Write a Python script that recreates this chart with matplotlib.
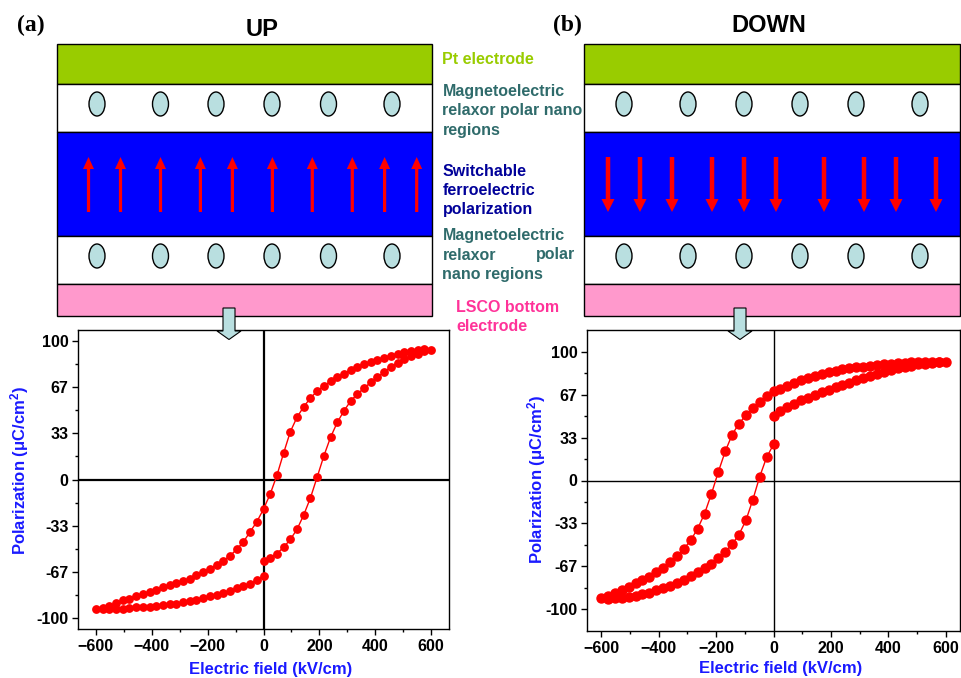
import matplotlib
matplotlib.use("Agg")
import matplotlib.pyplot as plt
from matplotlib.patches import Rectangle, Ellipse, FancyArrow, Polygon

plt.rcParams['font.family'] = ['Liberation Sans', 'DejaVu Sans']
plt.rcParams['font.weight'] = 'bold'
plt.rcParams['mathtext.fontset'] = 'custom'
plt.rcParams['mathtext.rm'] = 'Liberation Sans:bold'
plt.rcParams['mathtext.it'] = 'Liberation Sans:bold'
plt.rcParams['mathtext.bf'] = 'Liberation Sans:bold'

# ---- P-E loop data (kV/cm, uC/cm2) ----
# UP: rise 0 -> 600, fall 576 -> -600, return -576 -> 0
up_field_rise = [0, 24, 48, 72, 96, 120, 144, 168, 192, 216, 240, 264, 288,
                 312, 336, 360, 384, 408, 432, 456, 480, 504, 528, 552, 576, 600]
up_pol_rise = [-58.7, -56.5, -53.5, -49.0, -43.3, -36.0, -25.6, -13.3, 1.7, 17.0,
               30.5, 41.2, 49.6, 56.7, 61.8, 66.0, 70.2, 73.8, 77.8, 81.3, 84.3,
               86.8, 89.0, 91.0, 92.6, 93.7]
up_field_fall = [576, 552, 528, 504, 480, 456, 432, 408, 384, 360, 336, 312, 288,
                 264, 240, 216, 192, 168, 144, 120, 96, 72, 48, 24, 0, -24, -48,
                 -72, -96, -120, -144, -168, -192, -216, -240, -264, -288, -312,
                 -336, -360, -384, -408, -432, -456, -480, -504, -528, -552, -576, -600]
up_pol_fall = [94.0, 93.5, 92.8, 92.0, 90.7, 89.5, 88.0, 86.6, 84.8, 83.2, 81.4,
               79.1, 76.3, 73.8, 70.9, 67.7, 63.9, 58.8, 52.6, 45.0, 34.5, 19.1,
               3.0, -10.5, -21.4, -30.6, -37.8, -45.1, -50.4, -55.2, -58.6, -61.7,
               -64.4, -67.0, -69.2, -71.6, -73.0, -75.0, -76.4, -78.0, -79.8, -81.2,
               -82.9, -84.3, -86.0, -87.4, -89.4, -91.1, -92.5, -93.7]
up_field_return = [-576, -552, -528, -504, -480, -456, -432, -408, -384, -360, -336,
                   -312, -288, -264, -240, -216, -192, -168, -144, -120, -96, -72,
                   -48, -24, 0]
up_pol_return = [-93.8, -93.7, -93.5, -93.3, -92.8, -92.3, -92.0, -91.8, -91.3,
                 -90.8, -90.3, -89.6, -88.8, -88.1, -87.1, -85.9, -84.5, -83.5,
                 -82.0, -80.6, -78.7, -77.2, -75.3, -72.9, -69.8]

# DOWN: same sweep
down_field_rise = up_field_rise
down_pol_rise = [50.4, 54.0, 57.0, 59.8, 62.2, 64.4, 66.5, 68.6, 70.6, 72.4, 74.2,
                 76.0, 77.8, 79.6, 81.2, 82.8, 84.4, 85.9, 87.2, 88.4, 89.4, 90.2,
                 90.9, 91.4, 91.8, 92.0]
down_field_fall = up_field_fall
down_pol_fall = [92.5, 92.5, 92.4, 92.2, 91.9, 91.5, 91.1, 90.6, 90.2, 89.7, 89.1,
                 88.6, 88.0, 87.2, 86.3, 85.3, 84.1, 82.8, 81.3, 79.7, 77.9, 75.9,
                 73.6, 71.4, 69.5, 65.5, 61.0, 56.3, 50.7, 44.3, 35.6, 22.6, 6.7,
                 -10.4, -25.8, -37.5, -46.4, -53.2, -58.8, -63.7, -67.9, -71.3,
                 -74.7, -77.3, -80.0, -82.5, -85.0, -87.6, -89.5, -91.5]
down_field_return = up_field_return
down_pol_return = [-91.8, -91.6, -91.0, -90.4, -89.5, -88.4, -87.1, -85.5, -83.8,
                   -81.7, -79.5, -77.0, -74.6, -71.5, -68.2, -64.8, -60.3, -55.5,
                   -49.5, -42.0, -31.0, -15.0, 3.0, 18.0, 28.0]

x_ticks = [-600, -400, -200, 0, 200, 400, 600]
y_ticks = [-100, -66.67, -33.33, 0, 33.33, 66.67, 100]
y_ticklabels = ['-100', '-67', '-33', '0', '33', '67', '100']

fig = plt.figure(figsize=(9.61, 6.78), dpi=100)
W, H = 961, 678


def px_axes(x0, x1, y0, y1):
    return fig.add_axes([x0 / W, 1 - y1 / H, (x1 - x0) / W, (y1 - y0) / H])


def loop_plot(ax, fields, pols, xlim, ylim, ms, zero_lw, xlab_pos, ylab_pos):
    E = fields[0] + fields[1] + fields[2]
    P = pols[0] + pols[1] + pols[2]
    ax.axhline(0, color='k', lw=zero_lw, zorder=1)
    ax.axvline(0, color='k', lw=zero_lw, zorder=1)
    ax.plot(E, P, '-o', color='#ff0000', lw=1.0, ms=ms, mec='#ff0000', zorder=3)
    ax.set_xlim(xlim)
    ax.set_ylim(ylim)
    ax.set_xticks(x_ticks)
    ax.set_xticks([-500, -300, -100, 100, 300, 500], minor=True)
    ax.set_yticks(y_ticks)
    ax.set_yticklabels(y_ticklabels)
    ax.set_yticks([-83.33, -50, -16.67, 16.67, 50, 83.33], minor=True)
    ax.tick_params(which='major', direction='out', length=4, width=1,
                   labelsize=11.5, pad=3)
    ax.tick_params(which='minor', direction='out', length=2.5, width=1)
    for lab in ax.get_xticklabels() + ax.get_yticklabels():
        lab.set_fontweight('bold')
    for s in ax.spines.values():
        s.set_linewidth(1.0)
    ax.set_xlabel('Electric field (kV/cm)', color='#1a1aff', fontsize=12,
                  fontweight='bold')
    ax.set_ylabel('Polarization (μC/cm$^2$)', color='#1a1aff', fontsize=12,
                  fontweight='bold')
    ax.xaxis.set_label_coords(*xlab_pos)
    ax.yaxis.set_label_coords(*ylab_pos)


ax_up = px_axes(78, 449, 330, 629)
loop_plot(ax_up, [up_field_rise, up_field_fall, up_field_return],
          [up_pol_rise, up_pol_fall, up_pol_return],
          (-664, 664), (-108, 108), 5.3, 1.6, (0.52, -0.11), (-0.127, 0.53))

ax_down = px_axes(587, 960, 330, 631)
loop_plot(ax_down, [down_field_rise, down_field_fall, down_field_return],
          [down_pol_rise, down_pol_fall, down_pol_return],
          (-649, 649), (-117, 117), 6.5, 1.0, (0.52, -0.10), (-0.105, 0.505))

# ---- device schematics drawn in pixel coordinates ----
sk = fig.add_axes([0, 0, 1, 1], zorder=10)
sk.set_xlim(0, W)
sk.set_ylim(H, 0)
sk.axis('off')
sk.patch.set_alpha(0)

layers = [(44, 84, '#99cc00'), (84, 132, 'white'), (132, 236, '#0000ff'),
          (236, 284, 'white'), (284, 316, '#ff99cc')]


def stack(x0, x1, oval_x, arrow_x, up, shaft_w, head_w, head_l):
    for y0, y1, c in layers:
        sk.add_patch(Rectangle((x0, y0), x1 - x0, y1 - y0, facecolor=c,
                               edgecolor='black', lw=1.0))
    for yc in (104, 256):
        for xc in oval_x:
            sk.add_patch(Ellipse((xc, yc), 16, 24, facecolor='#b9dfe0',
                                 edgecolor='black', lw=1.0))
    for xa in arrow_x:
        if up:
            sk.add_patch(FancyArrow(xa, 212, 0, -55, width=shaft_w,
                                    head_width=head_w, head_length=head_l,
                                    length_includes_head=True, color='#ff0000', lw=0))
        else:
            sk.add_patch(FancyArrow(xa, 157, 0, 55, width=shaft_w,
                                    head_width=head_w, head_length=head_l,
                                    length_includes_head=True, color='#ff0000', lw=0))


stack(56.5, 432, [97, 160.5, 216, 272, 328.5, 392],
      [88.5, 120.5, 160.5, 200.4, 232.4, 272.4, 312.3, 352.3, 384.6, 416.7],
      True, 3.2, 11, 12)
stack(584, 960, [624, 688, 744, 800, 856, 920],
      [608, 640, 672, 712, 744, 776, 824, 864, 896, 936],
      False, 4.5, 13, 13)


def block_arrow(xc):
    pts = [(xc - 6, 308), (xc + 6, 308), (xc + 6, 331), (xc + 12, 331),
           (xc, 339.5), (xc - 12, 331), (xc - 6, 331)]
    sk.add_patch(Polygon(pts, closed=True, facecolor='#b9dfe0',
                         edgecolor='black', lw=0.8))


block_arrow(229)
block_arrow(740)

sk.text(31, 25, '(a)', family='Liberation Serif', fontweight='bold', fontsize=17,
        ha='center', va='center')
sk.text(567, 25, '(b)', family='Liberation Serif', fontweight='bold', fontsize=17,
        ha='center', va='center')
sk.text(262, 29, 'UP', fontweight='bold', fontsize=17, ha='center', va='center')
sk.text(769, 25, 'DOWN', fontweight='bold', fontsize=17, ha='center', va='center')

teal = '#2f6b6b'
side_lines = [
    ('Pt electrode', 59.3, '#99cc00'),
    ('Magnetoelectric', 91.7, teal),
    ('relaxor polar nano', 110.7, teal),
    ('regions', 130, teal),
    ('Switchable', 171.7, '#000099'),
    ('ferroelectric', 190.7, '#000099'),
    ('polarization', 209.3, '#000099'),
    ('Magnetoelectric', 235.7, teal),
    ('relaxor', 255, teal),
    ('nano regions', 274, teal),
]
for txt, y, c in side_lines:
    sk.text(442.5, y, txt, color=c, fontweight='bold', fontsize=11.5,
            ha='left', va='center')
sk.text(575, 255, 'polar', color=teal, fontweight='bold', fontsize=11.5,
        ha='right', va='center')
sk.text(456, 307.3, 'LSCO bottom', color='#ff3399', fontweight='bold',
        fontsize=11.5, ha='left', va='center')
sk.text(456, 326.7, 'electrode', color='#ff3399', fontweight='bold',
        fontsize=11.5, ha='left', va='center')

fig.savefig('out.png', dpi=100)
